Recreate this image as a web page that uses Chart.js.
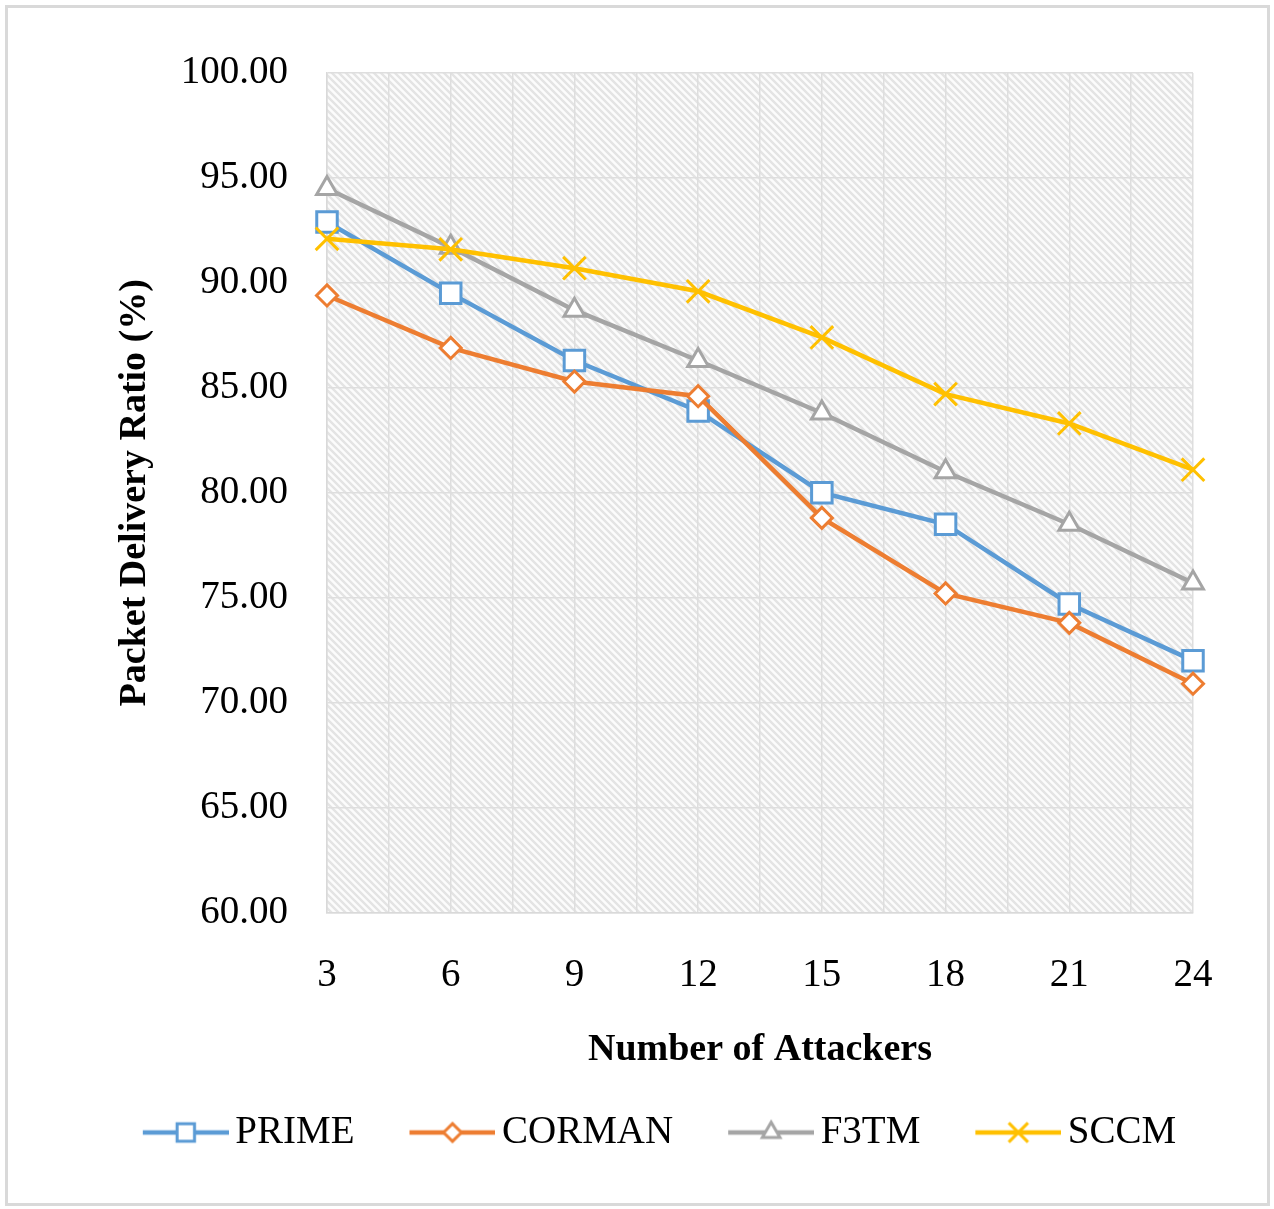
<!DOCTYPE html>
<html>
<head>
<meta charset="utf-8">
<script src="https://cdn.jsdelivr.net/npm/chart.js@4.4.1/dist/chart.umd.min.js"></script>
<style>
    html, body { margin: 0; padding: 0; background: #fff; }
    #wrap { width: 1274px; height: 1209px; position: relative; }
</style>
</head>
<body>
<div id="wrap"><canvas id="pdrChart" width="1274" height="1209"></canvas></div>
<script>
// Data
const attackers = [3, 6, 9, 12, 15, 18, 21, 24];
const prime  = [92.9, 89.5, 86.3, 83.9, 80.0, 78.5, 74.7, 72.0];
const corman = [89.4, 86.9, 85.3, 84.6, 78.8, 75.2, 73.8, 70.9];
const f3tm   = [94.5, 91.7, 88.7, 86.3, 83.8, 81.0, 78.5, 75.7];
const sccm   = [92.1, 91.6, 90.7, 89.6, 87.4, 84.7, 83.3, 81.1];
const seriesNames = ["PRIME", "CORMAN", "F3TM", "SCCM"];
const yTicks = [60, 65, 70, 75, 80, 85, 90, 95, 100];

const colors = ["#5B9BD5", "#ED7D31", "#A5A5A5", "#FFC000"];
const styles = ["rect", "rectRot", "triangle", "crossRot"];
const radii = [14.5, 10.5, 12, 16];

const serif = "'Liberation Serif', 'Times New Roman', serif";

// points from arrays
const toPoints = vals => vals.map((v, i) => ({ x: attackers[i], y: v }));

// hatch pattern for plot background
function makeHatch() {
    const c = document.createElement("canvas");
    c.width = 7; c.height = 7;
    const g = c.getContext("2d");
    g.fillStyle = "#fcfcfc";
    g.fillRect(0, 0, 7, 7);
    g.strokeStyle = "#e4e4e4";
    g.lineWidth = 2.4;
    g.beginPath();
    g.moveTo(-1, -1); g.lineTo(8, 8);
    g.moveTo(-8, -1); g.lineTo(1, 8);
    g.moveTo(6, -1); g.lineTo(15, 8);
    g.stroke();
    return c;
}

// legend sample: line + marker, drawn on the right part of the image
function makeLegendIcon(i) {
    const c = document.createElement("canvas");
    c.width = 144; c.height = 32;
    const g = c.getContext("2d");
    g.strokeStyle = colors[i];
    g.lineWidth = 4.5;
    g.beginPath();
    g.moveTo(58, 16); g.lineTo(144, 16);
    g.stroke();
    g.fillStyle = "#fff";
    g.strokeStyle = colors[i];
    g.lineWidth = 3;
    Chart.helpers.drawPoint(g, {
        pointStyle: styles[i], radius: radii[i] * 0.85, rotation: 0, borderWidth: 3
    }, 101, 16);
    return c;
}

const allSeries = [prime, corman, f3tm, sccm];

const datasets = allSeries.map((vals, i) => ({
    label: seriesNames[i],
    data: toPoints(vals),
    borderColor: colors[i],
    backgroundColor: "#fff",
    borderWidth: 4.5,
    pointStyle: styles[i],
    pointRadius: radii[i],
    pointBorderWidth: 3,
    pointBackgroundColor: "#fff",
    pointBorderColor: colors[i],
    tension: 0,
    clip: false,
    order: 4 - i
}));

const framePlugin = {
    id: "frame",
    beforeDraw(chart) {
        const { ctx, chartArea: a } = chart;
        ctx.save();
        ctx.fillStyle = "#fff";
        ctx.fillRect(0, 0, chart.width, chart.height);
        ctx.strokeStyle = "#d9d9d9";
        ctx.lineWidth = 3;
        ctx.strokeRect(6.5, 6.5, chart.width - 12, chart.height - 11);
        ctx.fillStyle = ctx.createPattern(makeHatch(), "repeat");
        ctx.fillRect(a.left, a.top, a.right - a.left, a.bottom - a.top);
        ctx.restore();
    }
};

const icons = seriesNames.map((n, i) => makeLegendIcon(i));

new Chart(document.getElementById("pdrChart"), {
    type: "line",
    data: { datasets },
    plugins: [framePlugin],
    options: {
        responsive: false,
        animation: false,
        layout: {
            padding: { left: 81, right: 81, top: 73, bottom: 47 }
        },
        plugins: {
            tooltip: { enabled: false },
            legend: {
                position: "bottom",
                labels: {
                    usePointStyle: true,
                    pointStyleWidth: 118,
                    padding: 10,
                    color: "#000",
                    font: { family: serif, size: 39 },
                    sort: (a, b) => a.datasetIndex - b.datasetIndex,
                    generateLabels: chart => seriesNames.map((n, i) => ({
                        text: n,
                        datasetIndex: i,
                        pointStyle: icons[i],
                        fillStyle: colors[i],
                        strokeStyle: colors[i],
                        lineWidth: 0,
                        fontColor: "#000"
                    }))
                }
            }
        },
        scales: {
            x: {
                type: "linear",
                min: attackers[0],
                max: attackers[attackers.length - 1],
                afterFit: s => { s.height = 190.5; },
                grid: { color: "#dedede", lineWidth: 1.5, drawTicks: false },
                border: { color: "#d9d9d9", width: 1.5 },
                ticks: {
                    stepSize: 1.5,
                    autoSkip: false,
                    maxRotation: 0,
                    padding: 40,
                    color: "#000",
                    font: { family: serif, size: 39 },
                    callback: v => (attackers.includes(v) ? v : "")
                },
                title: {
                    display: true,
                    text: "Number of Attackers",
                    color: "#000",
                    font: { family: serif, size: 38, weight: "bold" },
                    padding: { top: 0, bottom: 30 }
                }
            },
            y: {
                min: yTicks[0],
                max: yTicks[yTicks.length - 1],
                afterFit: s => { s.width = 246; },
                grid: { color: "#dedede", lineWidth: 1.5, drawTicks: false },
                border: { color: "#d9d9d9", width: 1.5 },
                ticks: {
                    stepSize: 5,
                    padding: 39,
                    color: "#000",
                    font: { family: serif, size: 39 },
                    callback: v => v.toFixed(2)
                },
                title: {
                    display: true,
                    text: "Packet Delivery Ratio (%)",
                    color: "#000",
                    font: { family: serif, size: 38, weight: "bold" },
                    padding: { top: 31, bottom: 0 }
                }
            }
        }
    }
});
</script>
</body>
</html>
